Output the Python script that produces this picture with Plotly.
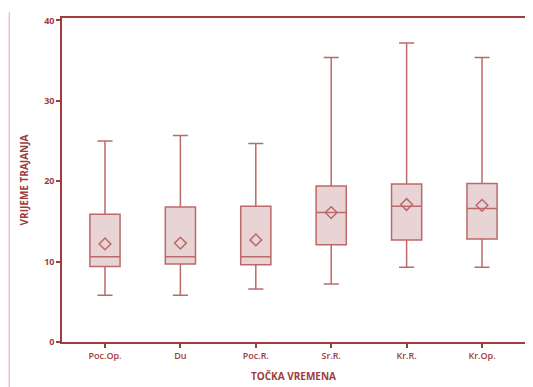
import plotly.graph_objects as go

categories = ["Poc.Op.", "Du", "Poc.R.", "Sr.R.", "Kr.R.", "Kr.Op."]
lower_whisker = [5.8, 5.8, 6.6, 7.2, 9.3, 9.3]
q1_values = [9.4, 9.7, 9.6, 12.1, 12.7, 12.8]
median_values = [10.6, 10.6, 10.6, 16.1, 16.9, 16.6]
q3_values = [15.9, 16.8, 16.9, 19.4, 19.65, 19.7]
upper_whisker = [25.0, 25.7, 24.7, 35.4, 37.2, 35.4]
mean_values = [12.2, 12.3, 12.7, 16.1, 17.1, 17.0]
y_ticks = [0, 10, 20, 30, 40]

dark = "rgb(160,60,60)"
edge = "rgb(188,105,105)"
fill = "rgb(232,212,212)"
font = "Open Sans, DejaVu Sans, sans-serif"

fig = go.Figure()
fig.add_trace(go.Box(
    x=categories,
    q1=q1_values, median=median_values, q3=q3_values,
    lowerfence=lower_whisker, upperfence=upper_whisker,
    fillcolor=fill,
    line=dict(color=edge, width=1.5),
    whiskerwidth=0.5,
    width=0.4,
    boxpoints=False,
    showlegend=False,
    hoverinfo="skip",
))
fig.add_trace(go.Scatter(
    x=categories, y=mean_values, mode="markers",
    marker=dict(symbol="diamond-open", size=9, color=edge, line=dict(width=1.5, color=edge)),
    showlegend=False, hoverinfo="skip",
))

fig.add_shape(type="line", xref="paper", yref="paper",
              x0=-0.114, x1=-0.114, y0=-0.14, y1=1.018,
              line=dict(color="rgb(228,185,185)", width=1.2))

fig.update_layout(
    width=525, height=379,
    margin=dict(l=54, r=6, t=8, b=45),
    paper_bgcolor="white", plot_bgcolor="white",
    font=dict(family=font, color=dark, size=9),
    xaxis=dict(
        range=[-0.57, 5.57],
        showline=True, linecolor=dark, linewidth=1.5, mirror=True,
        ticks="outside", ticklen=4, tickcolor=dark, tickwidth=1.5,
        showgrid=False, zeroline=False,
        tickfont=dict(size=9, color=dark, family=font, weight=600),
        title=dict(text="<b>TOČKA VREMENA</b>", font=dict(size=10, color=dark, family=font), standoff=12),
    ),
    yaxis=dict(
        range=[0, 40.3],
        tickvals=y_ticks,
        showline=True, linecolor=dark, linewidth=1.5, mirror=True,
        ticks="outside", ticklen=4, tickcolor=dark, tickwidth=1.5,
        showgrid=False, zeroline=False,
        tickfont=dict(size=9, color=dark, family=font, weight="bold"),
        title=dict(text="<b>VRIJEME TRAJANJA</b>", font=dict(size=10, color=dark, family=font), standoff=14),
    ),
)

fig.write_html("out.html")
